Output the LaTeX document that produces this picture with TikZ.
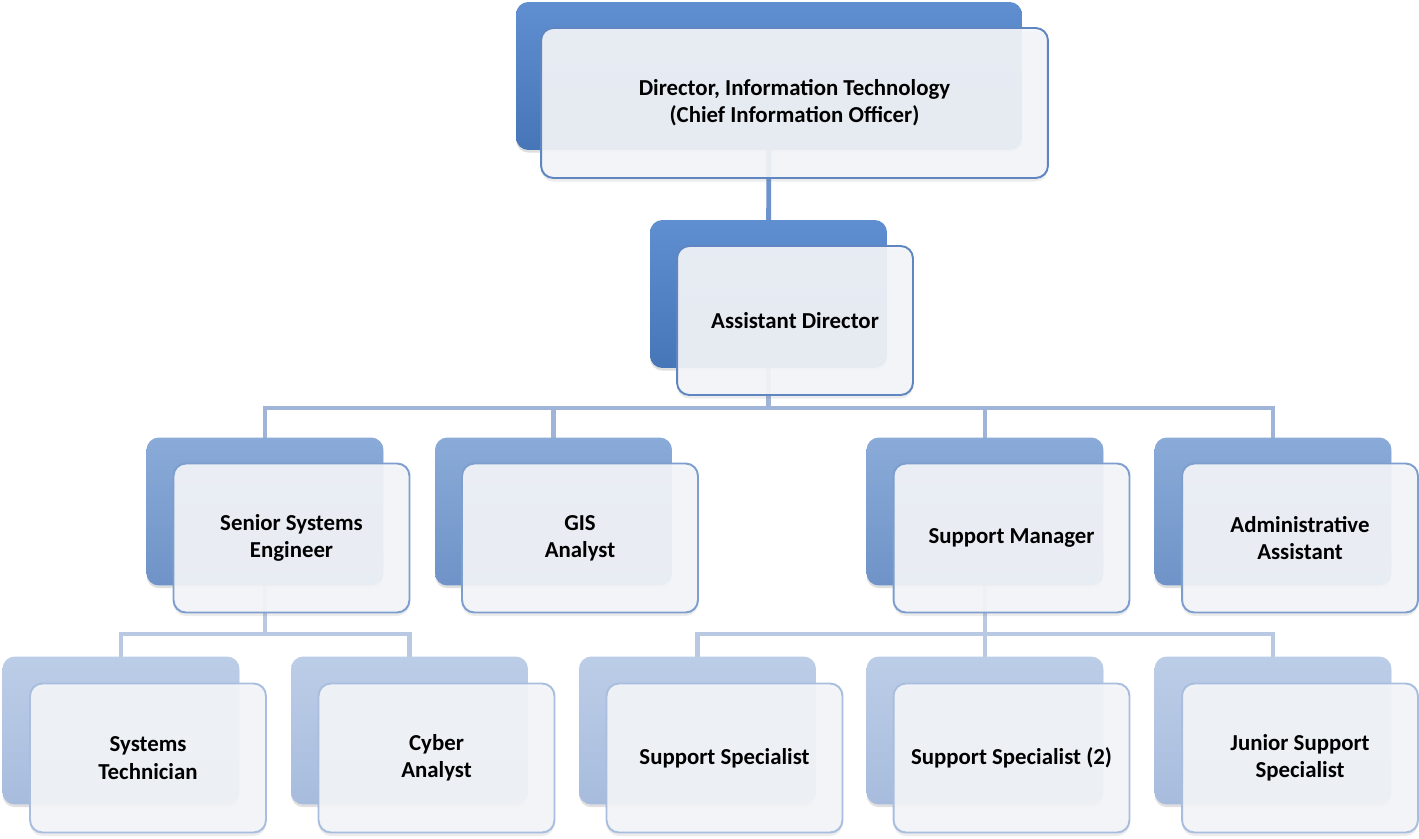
\documentclass[tikz,border=0pt]{standalone}
\usepackage{fontspec}
\setmainfont{Carlito}
\usetikzlibrary{backgrounds,shadows}
\definecolor{backdark}{HTML}{5F8FD0}
\definecolor{backdarkb}{HTML}{4676B8}
\definecolor{backmid}{HTML}{8AABD8}
\definecolor{backmidb}{HTML}{6F93C8}
\definecolor{backlight}{HTML}{BCCDE7}
\definecolor{backlightb}{HTML}{A7BCDD}
\definecolor{frontfill}{HTML}{F3F5F8}
\definecolor{edgedark}{HTML}{5F86C0}
\definecolor{edgemid}{HTML}{7E9ECE}
\definecolor{edgelight}{HTML}{A9BEDF}
\definecolor{linktop}{HTML}{6E92CC}
\definecolor{linkupper}{HTML}{A0B3D8}
\definecolor{linklower}{HTML}{BAC9E3}
\tikzset{
  backbox/.style={rectangle, rounded corners=7pt, minimum width=4.74cm, minimum height=2.96cm,
    drop shadow={opacity=0.25, shadow xshift=0pt, shadow yshift=-1.5pt}},
  frontbox/.style={rectangle, rounded corners=7pt, minimum width=4.72cm, minimum height=2.98cm,
    fill=frontfill, fill opacity=0.92, text opacity=1, line width=1.1pt, align=center,
    font=\bfseries\fontsize{13}{15.5}\selectfont,
    drop shadow={opacity=0.15, shadow xshift=0pt, shadow yshift=-2pt}},
  darkback/.style={backbox, top color=backdark, bottom color=backdarkb},
  midback/.style={backbox, top color=backmid, bottom color=backmidb},
  lightback/.style={backbox, top color=backlight, bottom color=backlightb},
  darkfront/.style={frontbox, draw=edgedark},
  midfront/.style={frontbox, draw=edgemid},
  lightfront/.style={frontbox, draw=edgelight},
  linkT/.style={draw=linktop, line width=2.8pt},
  linkA/.style={draw=linkupper, line width=2.8pt},
  linkB/.style={draw=linklower, line width=2.8pt}
}
\begin{document}
\begin{tikzpicture}[x=0.02cm, y=-0.02cm]
        \useasboundingbox (0,0) rectangle (1419,838);
        % top
        \node[darkback, minimum width=10.12cm] (dirB) at (769,76) {};
        \node[darkfront, minimum width=10.14cm, minimum height=3cm] (dir) at (794.5,103) {Director, Information Technology\\(Chief Information Officer)};
        \node[darkback] (asdB) at (768.5,294) {};
        \node[darkfront] (asd) at (795,320.5) {Assistant Director};
        % second row
        \node[midback] (sseB) at (265,511.5) {};
        \node[midfront] (sse) at (291.5,538) {Senior Systems\\Engineer};
        \node[midback] (gisB) at (553.5,511.5) {};
        \node[midfront] (gis) at (580,538) {GIS\\Analyst};
        \node[midback] (smB) at (985,511.5) {};
        \node[midfront] (sm) at (1011.5,538) {Support Manager};
        \node[midback] (aaB) at (1273,511.5) {};
        \node[midfront] (aa) at (1300,538) {Administrative\\Assistant};
        % third row
        \node[lightback] (stB) at (121,730.5) {};
        \node[lightfront] (st) at (148,758) {Systems\\Technician};
        \node[lightback] (caB) at (409.5,730.5) {};
        \node[lightfront] (ca) at (436.5,758) {Cyber\\Analyst};
        \node[lightback] (ssB) at (697.5,730.5) {};
        \node[lightfront] (ss) at (724.5,758) {Support Specialist};
        \node[lightback] (ss2B) at (985,730.5) {};
        \node[lightfront] (ss2) at (1011.5,758) {Support Specialist (2)};
        \node[lightback] (jssB) at (1273,730.5) {};
        \node[lightfront] (jss) at (1300,758) {Junior Support\\Specialist};
        % connectors
        \coordinate (busA) at (768.5,408);
        \coordinate (busL) at (265,634);
        \coordinate (busR) at (985,634);
        \begin{pgfonlayer}{background}
            \draw[linkT] (dirB.center) -- (asdB.center);
            \draw[linkA] (asdB.center) -- (busA);
            \draw[linkA] (sseB.center) |- (busA);
            \draw[linkA] (gisB.center) |- (busA);
            \draw[linkA] (smB.center) |- (busA);
            \draw[linkA] (aaB.center) |- (busA);
            \draw[linkB] (sseB.center) -- (busL);
            \draw[linkB] (stB.center) |- (busL);
            \draw[linkB] (caB.center) |- (busL);
            \draw[linkB] (smB.center) -- (busR);
            \draw[linkB] (ssB.center) |- (busR);
            \draw[linkB] (ss2B.center) -- (busR);
            \draw[linkB] (jssB.center) |- (busR);
        \end{pgfonlayer}
\end{tikzpicture}
\end{document}
